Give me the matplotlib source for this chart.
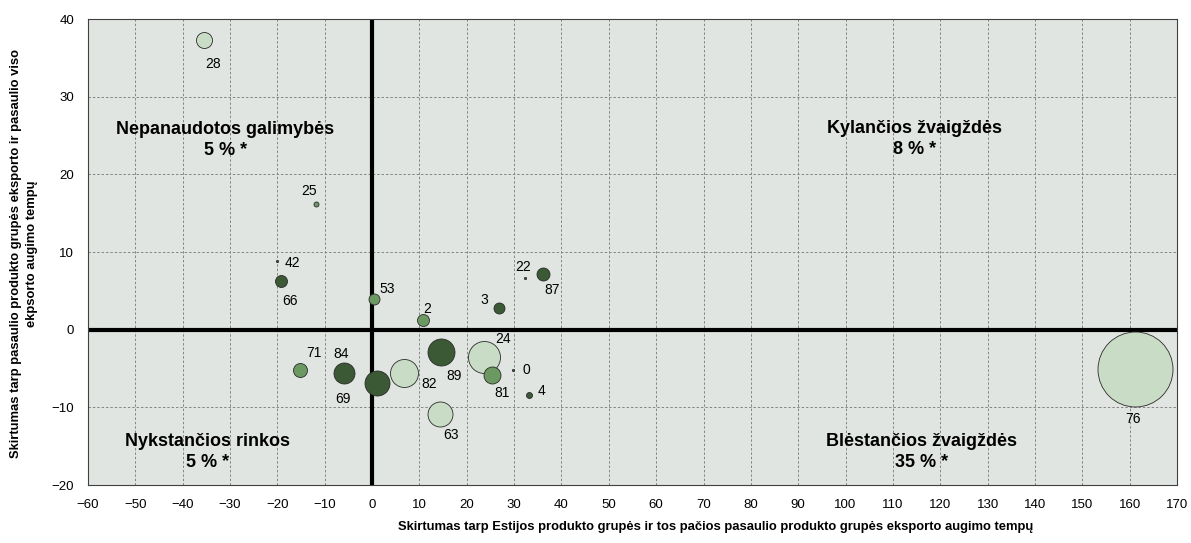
import matplotlib
matplotlib.use("Agg")
import matplotlib.pyplot as plt
import numpy as np

plt.rcParams['font.family'] = ['Liberation Sans Narrow', 'Liberation Sans', 'DejaVu Sans']

# produktu grupes (HS kodai), pozicijos ir santykine eksporto apimtis
grupes = ['28', '25', '42', '66', '53', '2', '3', '22', '87', '71',
          '84', '69', '82', '89', '24', '81', '0', '4', '63', '76']
x_skirt = [-35.4, -11.8, -20.0, -19.3, 0.3, 10.7, 26.7, 32.4, 36.2, -15.3,
           -6.0, 1.1, 6.7, 14.6, 23.6, 25.4, 29.7, 33.1, 14.4, 161.2]
y_skirt = [37.3, 16.2, 8.8, 6.3, 4.0, 1.2, 2.8, 6.6, 7.2, -5.2,
           -5.6, -6.9, -5.6, -2.9, -3.5, -5.9, -5.2, -8.4, -10.9, -5.1]
apimtis = [2.56, 0.25, 0.05, 1.44, 1.21, 1.44, 1.21, 0.05, 1.69, 1.96,
           4.41, 6.25, 7.84, 7.29, 10.24, 2.89, 0.05, 0.36, 6.25, 56.25]
tonas = ['sviesi', 'vidutine', 'tamsi', 'tamsi', 'vidutine', 'vidutine', 'tamsi',
         'tamsi', 'tamsi', 'vidutine', 'tamsi', 'tamsi', 'sviesi', 'tamsi',
         'sviesi', 'vidutine', 'tamsi', 'tamsi', 'sviesi', 'sviesi']

kvadrantai = ['Nepanaudotos galimybės\n5 % *', 'Kylančios žvaigždės\n8 % *',
              'Nykstančios rinkos\n5 % *', 'Blėstančios žvaigždės\n35 % *']
kvadrantu_vietos = [(-31.0, 24.4), (114.6, 24.5), (-34.7, -15.8), (116.0, -15.8)]

spalvos = {'tamsi': '#3a5934', 'vidutine': '#6b9961', 'sviesi': '#c9dcc6'}

# etikeciu postumiai taskais
postumiai = {'28': (6, -17), '25': (-5, 9.5), '42': (11, -1), '66': (7, -14.5),
             '53': (9.5, 7), '2': (3.5, 8.5), '3': (-10.5, 5.5), '22': (-1.5, 8.5),
             '87': (6.5, -11.5), '71': (10.5, 12), '84': (-1.5, 13.5), '69': (-25, -11),
             '82': (18, -8), '89': (9, -17), '24': (14, 12.5), '81': (7, -12.5),
             '0': (10, 0), '4': (9, 2.5), '63': (7.5, -15), '76': (-1.5, -36)}

fig = plt.figure(figsize=(11.91, 5.43), dpi=100)
ax = fig.add_axes([88 / 1191, 1 - 485 / 543, 1089 / 1191, 466 / 543])
ax.set_facecolor('#e1e5e1')

ax.set_xlim(-60, 170)
ax.set_ylim(-20, 40)
ax.set_xticks(np.arange(-60, 171, 10))
ax.set_yticks(np.arange(-20, 41, 10))
ax.tick_params(length=0, labelsize=9.5, pad=10)
ax.grid(True, color='#858585', linestyle=(0, (2.5, 2)), linewidth=0.7, zorder=0)
ax.set_axisbelow(True)
for s in ax.spines.values():
    s.set_color('#404040')
    s.set_linewidth(0.8)

ax.axvline(0, color='black', linewidth=3, zorder=2)
ax.axhline(0, color='black', linewidth=3, zorder=2)

tvarka = np.argsort(apimtis)[::-1]
for i in tvarka:
    ax.scatter(x_skirt[i], y_skirt[i], s=apimtis[i] * 100 * 0.72 ** 2,
               color=spalvos[tonas[i]], edgecolor='#2b2b2b', linewidth=0.6, zorder=3)

for g, xv, yv in zip(grupes, x_skirt, y_skirt):
    ax.annotate(g, (xv, yv), xytext=postumiai[g], textcoords='offset points',
                ha='center', va='center', fontsize=10, zorder=4)

for t, (qx, qy) in zip(kvadrantai, kvadrantu_vietos):
    ax.text(qx, qy, t, ha='center', va='center', fontsize=13, fontweight='bold',
            linespacing=1.3, zorder=4)

fig.text(716 / 1191, 1 - 527 / 543,
         'Skirtumas tarp Estijos produkto grupės ir tos pačios pasaulio produkto grupės eksporto augimo tempų',
         ha='center', va='center', fontsize=9.4, fontweight='bold')
fig.text(24 / 1191, 1 - 254 / 543,
         'Skirtumas tarp pasaulio produkto grupės eksporto ir pasaulio viso\nekpsorto augimo tempų',
         ha='center', va='center', rotation=90, multialignment='center',
         fontsize=9.4, fontweight='bold', linespacing=1.35)

fig.savefig('out.png', dpi=100)
